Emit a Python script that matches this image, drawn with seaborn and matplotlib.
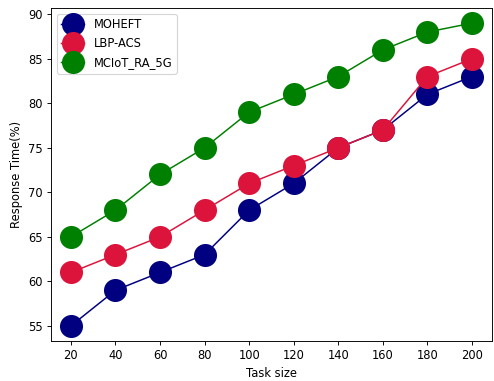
import matplotlib
matplotlib.use("Agg")
import matplotlib.pyplot as plt
import pandas as pd
import seaborn as sns

# values
task_size = [20, 40, 60, 80, 100, 120, 140, 160, 180, 200]
moheft = [55, 59, 61, 63, 68, 71, 75, 77, 81, 83]
lbp_acs = [61, 63, 65, 68, 71, 73, 75, 77, 83, 85]
mciot = [65, 68, 72, 75, 79, 81, 83, 86, 88, 89]

series_names = ["MOHEFT", "LBP-ACS", "MCIoT_RA_5G"]
series_colors = ["navy", "crimson", "green"]

df = pd.DataFrame({
    "Task size": task_size * 3,
    "Response": moheft + lbp_acs + mciot,
    "Method": [n for n in series_names for _ in task_size],
})

dpi = 83
fig, ax = plt.subplots(figsize=(494 / dpi, 381 / dpi), dpi=dpi)
sns.lineplot(
    data=df, x="Task size", y="Response", hue="Method",
    palette=series_colors, marker="o", markersize=20,
    markeredgewidth=0, linewidth=1.3, ax=ax,
)

ax.set_xticks(task_size)
ax.set_xlabel("Task size")
ax.set_ylabel("Response Time(%)")
ax.legend(title=None, loc="upper left")

fig.subplots_adjust(left=0.103, right=0.996, top=0.979, bottom=0.105)
fig.savefig("out.png", dpi=dpi)
